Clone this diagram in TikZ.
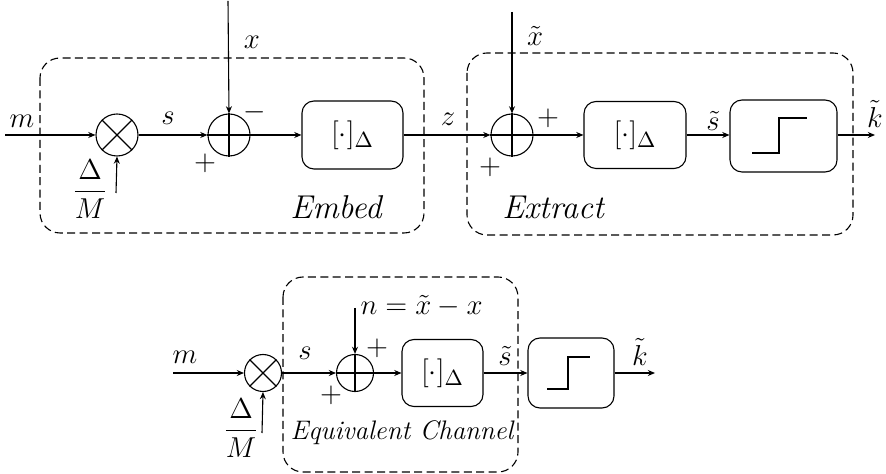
\documentclass[tikz,border=0pt]{standalone}
\usepackage{amsmath}
\usetikzlibrary{arrows.meta}
\begin{document}
\begin{tikzpicture}[x=0.5pt,y=-0.5pt,
  line width=0.55pt,
  every node/.style={font=\fontsize{15}{17}\selectfont},
  arr/.style={-{Stealth[length=3.6pt,width=3pt]}},
  sumbig/.style={circle,draw,minimum size=21pt,inner sep=0pt},
  sumsmall/.style={circle,draw,minimum size=18.5pt,inner sep=0pt},
  blk/.style={draw,rounded corners=6pt,inner sep=0pt},
  grp/.style={draw,dash pattern=on 4pt off 2.2pt,rounded corners=10pt,line width=0.55pt},
  lbl/.style={inner sep=0pt},
  word/.style={inner sep=0pt,font=\fontsize{16.5}{18}\selectfont\itshape}]
\useasboundingbox (0,0) rectangle (886,474);

% ---------------- top row ----------------
\draw[grp] (40,58) rectangle (424,233);
\draw[grp] (467,53) rectangle (853,235);

\coordinate (in1) at (5,135);
\node[sumbig] (mul1) at (117,135) {};
\draw (mul1.north west) -- (mul1.south east) (mul1.north east) -- (mul1.south west);
\node[sumbig] (s1) at (229,135) {};
\draw (s1.north) -- (s1.south) (s1.west) -- (s1.east);
\node[blk,minimum width=50.5pt,minimum height=34pt] (q1) at (352.5,135) {$[\cdot]_\Delta$};
\node[sumbig] (s2) at (512,135) {};
\draw (s2.north) -- (s2.south) (s2.west) -- (s2.east);
\node[blk,minimum width=51pt,minimum height=33.5pt] (q2) at (635,135) {$[\cdot]_\Delta$};
\node[blk,minimum width=53.5pt,minimum height=36pt] (st1) at (783.5,136) {};
\draw (752,153) -- (779,153) -- (779,118) -- (807,118);
\coordinate (out1) at (875,135);
\coordinate (xin) at (228,1);
\coordinate (xtin) at (512,12);
\coordinate (dm1) at (116,193);

\draw[arr] (in1) -- (mul1.west);
\draw[arr] (mul1.east) -- (s1.west);
\draw[arr] (xin) -- (s1.north);
\draw[arr] (s1.east) -- (q1.west);
\draw[arr] (q1.east) -- (s2.west);
\draw[arr] (xtin) -- (s2.north);
\draw[arr] (dm1) -- (mul1.south);
\draw[arr] (s2.east) -- (q2.west);
\draw[arr] (q2.east) -- (st1.west|-q2.east);
\draw[arr] (st1.east|-out1) -- (out1);

\node[lbl] (lm1) at (22,121) {$m$};
\node[lbl] (ldm1) at (90,189) {$\dfrac{\Delta}{M}$};
\node[lbl] (ls1) at (168,118) {$s$};
\node[lbl] (lx) at (252,42) {$x$};
\node[lbl] (lmin) at (255,112) {$-$};
\node[lbl] (lp1) at (205,163) {$+$};
\node[lbl] (lz) at (448,119) {$z$};
\node[lbl] (lxt) at (535,36) {$\tilde{x}$};
\node[lbl] (lp2) at (548,118) {$+$};
\node[lbl] (lp3) at (490,167) {$+$};
\node[lbl] (lst1) at (713,121) {$\tilde{s}$};
\node[lbl,anchor=south] (lk1) at (875,128) {$\tilde{k}$};
\node[word] (lemb) at (336,207) {Embed};
\node[word] (lext) at (553,207) {Extract};

% ---------------- bottom row ----------------
\draw[grp] (283,277) rectangle (518,472);

\coordinate (in2) at (173,373);
\node[sumsmall] (mul2) at (263,373) {};
\draw (mul2.north west) -- (mul2.south east) (mul2.north east) -- (mul2.south west);
\node[sumsmall] (s3) at (355,373) {};
\draw (s3.north) -- (s3.south) (s3.west) -- (s3.east);
\node[blk,minimum width=40.5pt,minimum height=33.5pt] (q3) at (442.5,373) {$[\cdot]_\Delta$};
\node[blk,minimum width=43pt,minimum height=35pt] (st2) at (571,373) {};
\draw (547,389) -- (568,389) -- (568,357) -- (590,357);
\coordinate (out2) at (655,373);
\coordinate (nin) at (355,308);
\coordinate (dm2) at (262,433);

\draw[arr] (in2) -- (mul2.west);
\draw[arr] (mul2.east) -- (s3.west);
\draw[arr] (nin) -- (s3.north);
\draw[arr] (dm2) -- (mul2.south);
\draw[arr] (s3.east) -- (q3.west);
\draw[arr] (q3.east) -- (st2.west);
\draw[arr] (st2.east) -- (out2);

\node[lbl] (lm2) at (185,357) {$m$};
\node[lbl] (ldm2) at (241,428) {$\dfrac{\Delta}{M}$};
\node[lbl] (ls2) at (305,353) {$s$};
\node[lbl,anchor=west] (ln) at (360,306) {$n=\tilde{x}-x$};
\node[lbl] (lp4) at (377,348) {$+$};
\node[lbl] (lp5) at (331,395) {$+$};
\node[lbl] (lst2) at (505,356) {$\tilde{s}$};
\node[lbl,anchor=south] (lk2) at (640,366) {$\tilde{k}$};
\node[word,font=\fontsize{13.4}{15}\selectfont\itshape] (leq) at (402,433) {Equivalent Channel};
\end{tikzpicture}
\end{document}
